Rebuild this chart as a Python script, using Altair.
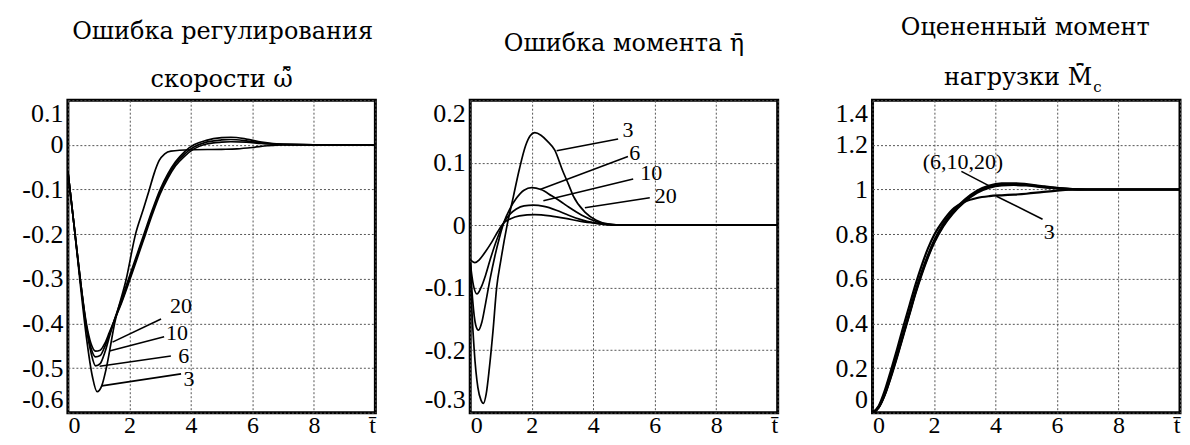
import altair as alt
import pandas as pd

# ---------------- Panel 1: speed regulation error ----------------
p1_t3 = [0, 0.1, 0.2, 0.4, 0.6, 0.8, 0.95, 1.1, 1.25, 1.52, 1.9, 2.2, 2.45, 2.65, 2.8, 2.97, 3.15, 3.35, 4.0, 5.0, 5.5, 6.0, 6.5, 7.0, 10]
p1_v3 = [-0.06, -0.12, -0.18, -0.31, -0.43, -0.52, -0.553, -0.54, -0.5, -0.4, -0.3, -0.2, -0.145, -0.1, -0.065, -0.035, -0.02, -0.014, -0.011, -0.01, -0.009, -0.006, -0.002, 0, 0]
p1_t = [0, 0.1, 0.2, 0.4, 0.6, 0.75, 0.9, 1.05, 1.2, 1.35, 1.5, 1.75, 2.0, 2.25, 2.5, 2.75, 3.0, 3.25, 3.5, 3.8, 4.1, 4.5, 5.0, 5.3, 5.8, 6.3, 7.0, 8.0, 10]
p1_v6 = [-0.06, -0.12, -0.18, -0.3, -0.41, -0.465, -0.495, -0.49, -0.465, -0.43, -0.395, -0.345, -0.295, -0.245, -0.195, -0.145, -0.1, -0.065, -0.038, -0.015, 0.0, 0.01, 0.016, 0.017, 0.013, 0.006, 0.001, 0, 0]
p1_v10 = [-0.06, -0.12, -0.18, -0.3, -0.405, -0.455, -0.475, -0.472, -0.452, -0.425, -0.395, -0.35, -0.3, -0.25, -0.2, -0.15, -0.105, -0.07, -0.042, -0.02, -0.005, 0.006, 0.011, 0.012, 0.009, 0.004, 0.001, 0, 0]
p1_v20 = [-0.06, -0.12, -0.18, -0.3, -0.4, -0.445, -0.462, -0.46, -0.445, -0.42, -0.395, -0.353, -0.305, -0.255, -0.205, -0.155, -0.11, -0.075, -0.047, -0.025, -0.009, 0.002, 0.006, 0.007, 0.006, 0.003, 0.001, 0, 0]
p1_lab = ["20", "10", "6", "3"]
p1_lab_t = [3.68, 3.55, 3.77, 3.94]
p1_lab_v = [-0.362, -0.422, -0.474, -0.525]
p1_lead_t = [1.45, 1.35, 1.03, 1.1]
p1_lead_v = [-0.442, -0.462, -0.496, -0.54]
p1_lead_t2 = [3.03, 3.13, 3.35, 3.68]
p1_lead_v2 = [-0.39, -0.43, -0.473, -0.513]
p1_yticks = [-0.6, -0.5, -0.4, -0.3, -0.2, -0.1, 0, 0.1]

# ---------------- Panel 2: torque error ----------------
p2_t3 = [0, 0.05, 0.13, 0.25, 0.35, 0.43, 0.52, 0.62, 0.74, 0.86, 1.0, 1.2, 1.4, 1.6, 1.8, 1.95, 2.1, 2.3, 2.5, 2.75, 3.0, 3.2, 3.35, 3.73, 4.1, 4.47, 5.0, 10]
p2_v3 = [-0.06, -0.13, -0.2, -0.26, -0.28, -0.285, -0.27, -0.23, -0.17, -0.1, -0.055, 0.0, 0.045, 0.09, 0.127, 0.143, 0.148, 0.144, 0.135, 0.12, 0.088, 0.065, 0.047, 0.021, 0.008, 0.002, 0, 0]
p2_t6 = [0, 0.08, 0.18, 0.27, 0.38, 0.5, 0.65, 0.8, 0.95, 1.1, 1.3, 1.5, 1.75, 2.0, 2.3, 2.65, 3.0, 3.2, 3.63, 4.1, 4.5, 5.0, 10]
p2_v6 = [-0.06, -0.12, -0.16, -0.168, -0.155, -0.125, -0.085, -0.05, -0.02, 0.005, 0.027, 0.043, 0.056, 0.06, 0.057, 0.047, 0.036, 0.029, 0.016, 0.006, 0.001, 0, 0]
p2_t10 = [0, 0.1, 0.22, 0.35, 0.5, 0.65, 0.8, 0.95, 1.1, 1.3, 1.5, 1.75, 2.05, 2.4, 2.8, 3.2, 3.6, 4.0, 4.4, 5.0, 10]
p2_v10 = [-0.06, -0.095, -0.11, -0.1, -0.08, -0.055, -0.032, -0.012, 0.005, 0.018, 0.026, 0.031, 0.032, 0.03, 0.024, 0.016, 0.009, 0.004, 0.001, 0, 0]
p2_t20 = [0, 0.15, 0.3, 0.5, 0.7, 0.9, 1.1, 1.3, 1.6, 2.1, 2.6, 3.1, 3.6, 4.1, 4.6, 5.2, 10]
p2_v20 = [-0.055, -0.06, -0.055, -0.042, -0.027, -0.01, 0.004, 0.01, 0.015, 0.017, 0.015, 0.011, 0.006, 0.003, 0.001, 0, 0]
p2_lab = ["3", "6", "10", "20"]
p2_lab_t = [5.13, 5.35, 5.89, 6.36]
p2_lab_v = [0.153, 0.116, 0.083, 0.047]
p2_lead_t = [2.81, 2.27, 2.38, 3.73]
p2_lead_v = [0.119, 0.057, 0.039, 0.028]
p2_lead_t2 = [4.81, 5.13, 5.3, 5.84]
p2_lead_v2 = [0.138, 0.11, 0.074, 0.044]
p2_yticks = [-0.3, -0.2, -0.1, 0, 0.1, 0.2]

# ---------------- Panel 3: estimated load torque ----------------
p3_t = [0, 0.2, 0.4, 0.6, 0.8, 1.0, 1.2, 1.4, 1.6, 1.8, 2.0, 2.3, 2.6, 3.0, 3.4, 3.8, 4.2, 4.6, 5.0, 5.5, 6.0, 6.5, 7.0, 10]
p3_v3 = [0, 0.03, 0.1, 0.19, 0.285, 0.385, 0.48, 0.575, 0.66, 0.735, 0.795, 0.86, 0.91, 0.945, 0.962, 0.97, 0.974, 0.977, 0.981, 0.988, 0.995, 0.999, 1.0, 1.0]
p3_v6 = [0, 0.025, 0.085, 0.17, 0.26, 0.355, 0.45, 0.545, 0.63, 0.705, 0.77, 0.845, 0.9, 0.955, 0.995, 1.018, 1.027, 1.028, 1.024, 1.015, 1.007, 1.002, 1.0, 1.0]
p3_v10 = [0, 0.024, 0.082, 0.165, 0.255, 0.35, 0.445, 0.54, 0.625, 0.7, 0.765, 0.84, 0.895, 0.95, 0.99, 1.013, 1.022, 1.024, 1.021, 1.013, 1.006, 1.002, 1.0, 1.0]
p3_v20 = [0, 0.023, 0.08, 0.16, 0.25, 0.345, 0.44, 0.535, 0.62, 0.695, 0.76, 0.835, 0.89, 0.945, 0.985, 1.008, 1.018, 1.02, 1.018, 1.011, 1.005, 1.001, 1.0, 1.0]
p3_lab = ["(6,10,20)", "3"]
p3_lab_t = [2.94, 5.75]
p3_lab_v = [1.125, 0.81]
p3_lead_t = [2.89, 4.03]
p3_lead_v = [1.081, 0.97]
p3_lead_t2 = [3.81, 5.53]
p3_lead_v2 = [1.015, 0.867]
p3_yticks = [0, 0.2, 0.4, 0.6, 0.8, 1.0, 1.2, 1.4]

x_ticks = [0, 2, 4, 6, 8, 10]

FONT = "Liberation Serif"
TFONT = "DejaVu Serif"
W, H = 308, 313


def series_df(pairs):
    rows = []
    for name, ts, vs in pairs:
        for i, (t, v) in enumerate(zip(ts, vs)):
            rows.append({"s": name, "t": t, "v": v, "i": i})
    return pd.DataFrame(rows)


def panel(df, ydom, yticks, labs, lt, lv, ldt, ldv, ldt2, ldv2, titles, sw):
    xenc = alt.X("t:Q", scale=alt.Scale(domain=[0, 10], nice=False, zero=False),
                 axis=alt.Axis(values=x_ticks, title=None, grid=True, ticks=False, domain=False,
                               labelFlush=True, labelPadding=1, labelFontSize=24,
                               labelExpr="datum.value == 10 ? 't\u0304' : datum.label"))
    yenc = alt.Y("v:Q", scale=alt.Scale(domain=ydom, nice=False, zero=False),
                 axis=alt.Axis(values=yticks, title=None, grid=True, ticks=False, domain=False,
                               labelFlush=True, labelPadding=5,
                               labelExpr="replace(format(datum.value, '.1~f'), '\u2212', '-')"))
    lines = alt.Chart(df).mark_line(color="black", strokeWidth=sw, clip=True,
                                    interpolate="monotone").encode(
        x=xenc, y=yenc, detail="s:N", order="i:Q")
    lead_df = pd.DataFrame({"t": ldt, "v": ldv, "t2": ldt2, "v2": ldv2})
    leads = alt.Chart(lead_df).mark_rule(color="black", strokeWidth=1.6).encode(
        x=xenc, y=yenc, x2="t2:Q", y2="v2:Q")
    lab_df = pd.DataFrame({"t": lt, "v": lv, "label": labs})
    texts = alt.Chart(lab_df).mark_text(font=FONT, fontSize=22, color="black").encode(
        x=xenc, y=yenc, text="label:N")
    layers = [lines, leads, texts]
    one = pd.DataFrame({"a": [0]})
    for txt, px, py, size, align in titles:
        layers.append(alt.Chart(one).mark_text(text=txt, font=TFONT, fontSize=size, color="black",
                                               align=align, baseline="alphabetic").encode(
            x=alt.value(px), y=alt.value(py)))
    return alt.layer(*layers).properties(width=W, height=H)


df1 = series_df([("3", p1_t3, p1_v3), ("6", p1_t, p1_v6), ("10", p1_t, p1_v10), ("20", p1_t, p1_v20)])
df2 = series_df([("3", p2_t3, p2_v3), ("6", p2_t6, p2_v6), ("10", p2_t10, p2_v10), ("20", p2_t20, p2_v20)])
df3 = series_df([("3", p3_t, p3_v3), ("6", p3_t, p3_v6), ("10", p3_t, p3_v10), ("20", p3_t, p3_v20)])

c1 = panel(df1, [-0.6, 0.1], p1_yticks, p1_lab, p1_lab_t, p1_lab_v, p1_lead_t, p1_lead_v, p1_lead_t2, p1_lead_v2,
           [("Ошибка регулирования", 155, -61, 24, "center"),
            ("скорости  \u03c9\u0303\u0304", 154, -13, 24, "center")], 1.7)
c2 = panel(df2, [-0.3, 0.2], p2_yticks, p2_lab, p2_lab_t, p2_lab_v, p2_lead_t, p2_lead_v, p2_lead_t2, p2_lead_v2,
           [("Ошибка момента \u03b7\u0304", 154, -49, 24, "center")], 1.7)
c3 = panel(df3, [0, 1.4], p3_yticks, p3_lab, p3_lab_t, p3_lab_v, p3_lead_t, p3_lead_v, p3_lead_t2, p3_lead_v2,
           [("Оцененный момент", 153, -65, 24, "center"),
            ("нагрузки  M\u0302\u0304", 220, -15, 24, "right"),
            ("c", 221, -8, 15, "left")], 2.2)

chart = alt.hconcat(c1, c2, c3, spacing=95, bounds="flush").properties(
    padding={"left": 12, "top": 6, "right": 0, "bottom": 0}
).configure_view(stroke="black", strokeWidth=3).configure_axis(
    labelFont=FONT, labelFontSize=26, labelColor="black",
    gridColor="#555", gridDash=[2, 2], gridWidth=1, gridOpacity=1
)

chart.save("out.html", embed_options={"renderer": "svg", "actions": False})
